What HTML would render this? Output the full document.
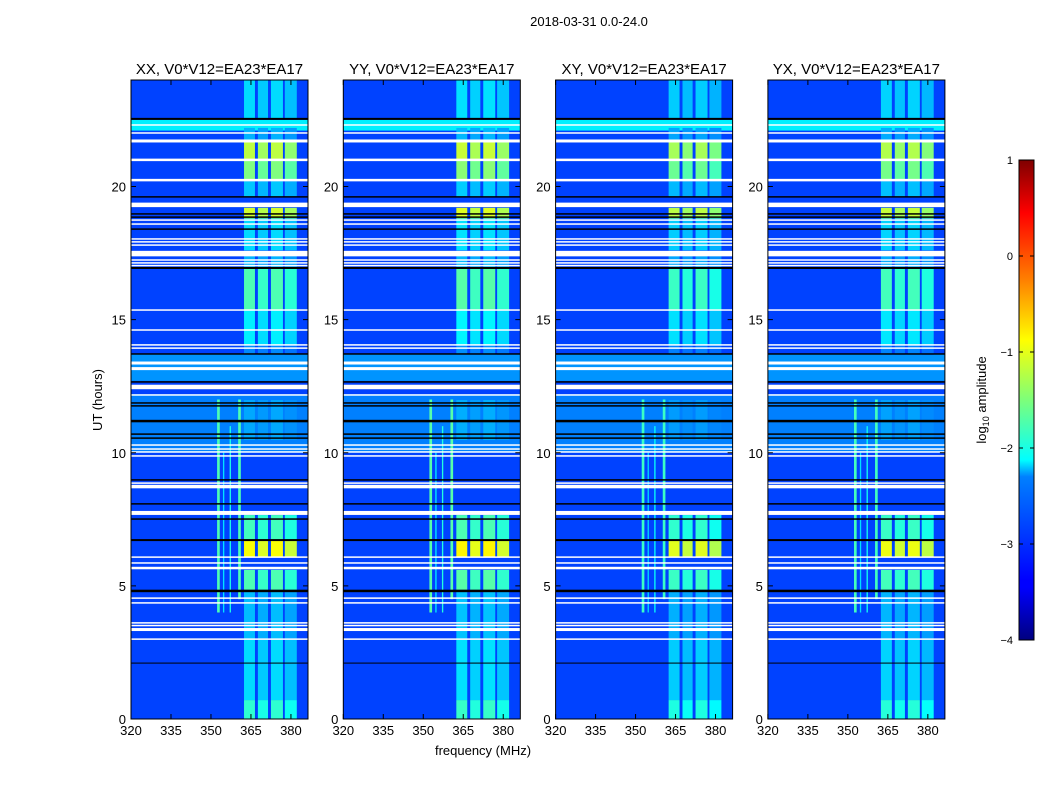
<!DOCTYPE html>
<html><head><meta charset="utf-8"><style>
body{margin:0;background:#fff;font-family:"Liberation Sans",sans-serif}
svg text{font-family:"Liberation Sans",sans-serif}
</style></head><body>
<svg id="fig" width="1050" height="800" viewBox="0 0 1050 800" xmlns="http://www.w3.org/2000/svg">
<defs>
<linearGradient id="jet" x1="0" y1="1" x2="0" y2="0">
<stop offset="0" stop-color="#00007f"/><stop offset="0.11" stop-color="#0000ff"/><stop offset="0.125" stop-color="#0000ff"/>
<stop offset="0.34" stop-color="#0080ff"/><stop offset="0.375" stop-color="#00ffff"/><stop offset="0.5" stop-color="#7dff7a"/>
<stop offset="0.625" stop-color="#ffff00"/><stop offset="0.75" stop-color="#ff8000"/><stop offset="0.89" stop-color="#ff0000"/><stop offset="1" stop-color="#7f0000"/>
</linearGradient>
</defs>
<text x="589" y="26" font-size="13" text-anchor="middle">2018-03-31 0.0-24.0</text>
<text transform="translate(102,400) rotate(-90)" font-size="13" text-anchor="middle">UT (hours)</text>
<text x="483" y="755" font-size="13" text-anchor="middle">frequency (MHz)</text>
<g id="panels"></g>
<g>
<rect x="1019" y="160" width="15" height="480" fill="url(#jet)" stroke="#000" stroke-width="1"/>
<g id="cbticks"></g>
<text transform="translate(986,400) rotate(-90)" font-size="13" text-anchor="middle">log<tspan font-size="9" dy="3">10</tspan><tspan dy="-3"> amplitude</tspan></text>
</g>
</svg>
<script>
const panelTitles=["XX, V0*V12=EA23*EA17","YY, V0*V12=EA23*EA17","XY, V0*V12=EA23*EA17","YX, V0*V12=EA23*EA17"];
const panelGain=[1.0,1.02,0.96,0.98];
const xTicks=[320,335,350,365,380];
const yTicks=[0,5,10,15,20];
const cbTicks=[1,0,-1,-2,-3,-4];
const bandFreqs=[[362.4,366.5],[367.6,371.4],[372.5,377],[377.7,382.2]];
const bandGain=[1,0.95,1,0.92];
const bandSegments=[[22.57,24,0.34],[21.75,22.2,0.3],[21.03,21.67,0.56],[20.24,20.96,0.5],[19.6,20.2,0.32],[18.8,19.2,0.58],[17.6,18.8,0.34],[16.94,17.39,0.3],[15.36,16.94,0.45],[14.05,15.36,0.36],[13.67,14.05,0.26],[10.48,11.98,0.29],[6.72,7.66,0.44],[6.08,6.69,0.62],[4.85,5.6,0.45],[2.97,4.77,0.31],[0.71,2.97,0.34],[0,0.71,0.42]];
const bgSegments=[[22.1,22.5,0.36],[12.7,13.7,0.27],[10.0,12.2,0.25]];
const bgLevel=0.19;
const vLines=[[352.3,353.3,4.0,12.0,0.45],[354.5,355,4.0,10,0.35],[357,357.5,4,11,0.4],[360.2,361.2,4.5,12,0.45]];
const whiteLines=[[22.31,1.5],[22.01,1.5],[21.71,3],[21.0,2.5],[20.24,2.5],[19.31,4.5],[18.74,1.5],[18.59,1.5],[18.03,1.5],[17.92,1.5],[17.80,1.5],[17.48,5.5],[17.24,1.5],[17.13,1.5],[17.03,1.5],[15.36,1.5],[14.61,1.5],[14.05,1.5],[13.93,1.5],[13.37,3],[13.16,3],[12.47,4.5],[12.17,1.5],[10.29,1.5],[10.14,1.5],[10.03,1.5],[9.88,1.5],[8.86,1.5],[8.73,3.5],[7.74,4],[6.08,1.5],[5.86,1.5],[5.67,2.5],[4.54,1.5],[4.36,1.5],[3.61,1.5],[3.51,1.5],[3.36,3],[3.0,1.5]];
const blackLines=[[22.54,2],[19.61,1.5],[18.97,1.5],[18.85,1.5],[18.4,1.5],[16.94,2],[13.71,1.5],[12.66,1.5],[11.87,1.5],[11.76,1.5],[11.19,2.5],[10.7,1.5],[10.55,1.5],[8.98,1.5],[8.08,1.5],[7.51,1.5],[6.72,2],[4.81,2.5],[2.1,1]];

const NS="http://www.w3.org/2000/svg";
function jet(v){v=Math.max(0,Math.min(1,v));const c=x=>Math.round(255*Math.max(0,Math.min(1,x)));
return `rgb(${c(1.5-Math.abs(4*v-3))},${c(1.5-Math.abs(4*v-2))},${c(1.5-Math.abs(4*v-1))})`;}
function el(tag,attrs,parent){const e=document.createElementNS(NS,tag);for(const k in attrs)e.setAttribute(k,attrs[k]);parent.appendChild(e);return e;}
const X0=131,DX=212.3,W=177,TOP=80,BOT=719,FMIN=320,FMAX=386.4,TMAX=24;
const panels=document.getElementById('panels');
panelTitles.forEach((title,i)=>{
  const px=X0+DX*i;
  const xs=f=>px+(f-FMIN)/(FMAX-FMIN)*W;
  const ys=t=>BOT-t/TMAX*(BOT-TOP);
  const g=el('g',{},panels);
  
  
  const bg=el('rect',{x:px,y:TOP,width:W,height:BOT-TOP,fill:jet(bgLevel)},g);
  
  
  bgSegments.forEach(s=>{const r=el('rect',{x:px,y:ys(s[1]),width:W,height:ys(s[0])-ys(s[1]),fill:jet(s[2])},g);
    
    });
  vLines.forEach(v=>{const r=el('rect',{x:xs(v[0]),y:ys(v[3]),width:xs(v[1])-xs(v[0]),height:ys(v[2])-ys(v[3]),fill:jet(v[4]*panelGain[i])},g);
    
    });
  bandFreqs.forEach((b,bi)=>{bandSegments.forEach(s=>{
    const r=el('rect',{x:xs(b[0]),y:ys(s[1]),width:xs(b[1])-xs(b[0]),height:ys(s[0])-ys(s[1]),fill:jet(s[2]*bandGain[bi]*panelGain[i])},g);
    
    });});
  whiteLines.forEach(w=>{const r=el('rect',{x:px,y:ys(w[0])-w[1]/2,width:W,height:w[1],fill:'#fff'},g);
    
    });
  blackLines.forEach(w=>{const r=el('rect',{x:px,y:ys(w[0])-w[1]/2,width:W,height:w[1],fill:'#000'},g);
    
    });
  const fr=el('rect',{x:px,y:TOP,width:W,height:BOT-TOP,fill:'none',stroke:'#000','stroke-width':1},g);
  
  
  const tt=el('text',{x:px+W/2,y:74,'font-size':15,'text-anchor':'middle'},g);tt.textContent=title;
  
  
  xTicks.forEach(f=>{const x=xs(f);
    el('line',{x1:x,x2:x,y1:BOT,y2:BOT-5,stroke:'#000'},g);el('line',{x1:x,x2:x,y1:TOP,y2:TOP+5,stroke:'#000'},g);
    const t=el('text',{x:x,y:BOT+16,'font-size':13,'text-anchor':'middle'},g);t.textContent=f;
    
    });
  yTicks.forEach(v=>{const y=ys(v);
    el('line',{x1:px,x2:px+5,y1:y,y2:y,stroke:'#000'},g);el('line',{x1:px+W,x2:px+W-5,y1:y,y2:y,stroke:'#000'},g);
    const t=el('text',{x:px-5,y:y+5,'font-size':13,'text-anchor':'end'},g);t.textContent=v;
    
    });
});
const cbg=document.getElementById('cbticks');
cbTicks.forEach(v=>{const y=160+(1-v)/5*480;
  el('line',{x1:1019,x2:1023,y1:y,y2:y,stroke:'#000'},cbg);el('line',{x1:1034,x2:1030,y1:y,y2:y,stroke:'#000'},cbg);
  const t=el('text',{x:1013,y:y+4,'font-size':11,'text-anchor':'end'},cbg);t.textContent=v<0?'\u2212'+(-v):v;
  
  });
</script>
</body></html>
